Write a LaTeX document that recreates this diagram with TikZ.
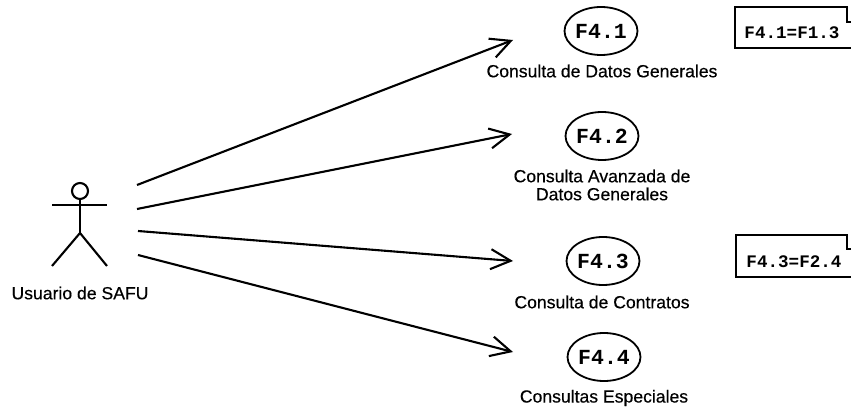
\documentclass[tikz,border=0pt]{standalone}
\usepackage{fontspec}
\setmainfont[FakeBold=0.4]{Liberation Sans}
\setmonofont{Liberation Mono}
\usetikzlibrary{arrows.meta,shapes.geometric}
\tikzset{
  uc/.style={ellipse,draw,line width=1.8pt,minimum width=72pt,minimum height=48pt,inner sep=0pt,font=\ttfamily\bfseries\fontsize{21.5}{24}\selectfont},
  lbl/.style={font=\fontsize{17.6}{18}\selectfont,align=center,inner sep=0pt},
  note/.style={font=\ttfamily\bfseries\fontsize{17.6}{18}\selectfont,inner sep=0pt},
  ln/.style={line width=2.1pt},
  arr/.style={ln,-{Straight Barb[length=20pt,width=20pt,line width=2.1pt]}}
}
\begin{document}
\begin{tikzpicture}[x=1pt,y=-1pt]
\useasboundingbox (0,0) rectangle (851,411);
\node[draw,circle,ln,minimum size=16pt,inner sep=0pt] (head) at (80,191) {};
\coordinate (hip) at (80,233);
\coordinate (armL) at (52,205);
\coordinate (armR) at (107,205);
\coordinate (legL) at (52,266);
\coordinate (legR) at (107,266);
\draw[ln] (head.south) -- (hip);
\draw[ln] (armL) -- (armR);
\draw[ln] (legL) -- (hip) -- (legR);
\node[lbl] (actor) at (80,293) {Usuario de SAFU};
\node[uc] (u1) at (601,31) {F4.1};
\node[uc] (u2) at (602,136) {F4.2};
\node[uc] (u3) at (603,261) {F4.3};
\node[uc] (u4) at (604,357) {F4.4};
\node[lbl] (l1) at (602,71) {Consulta de Datos Generales};
\node[lbl] (l2) at (602,185) {Consulta Avanzada de\\Datos Generales};
\node[lbl] (l3) at (602,302) {Consulta de Contratos};
\node[lbl] (l4) at (604,398) {Consultas Especiales};
\coordinate (s1) at (137,185);
\coordinate (s2) at (137,209);
\coordinate (s3) at (138,231);
\coordinate (s4) at (138,255);
\coordinate (e1) at (513,40);
\coordinate (e2) at (512,134);
\coordinate (e3) at (513,261);
\coordinate (e4) at (513,352);
\draw[arr] (s1) -- (e1);
\draw[arr] (s2) -- (e2);
\draw[arr] (s3) -- (e3);
\draw[arr] (s4) -- (e4);
\node[note] (n1) at (792,33) {F4.1=F1.3};
\node[note] (n3) at (794,262) {F4.3=F2.4};
\draw[ln] (848,7) -- (735,7) -- (735,48) -- (851,48);
\draw[line width=1.4pt] (847,7) -- (847,22) -- (851,22);
\draw[ln] (848,235) -- (736,235) -- (736,277) -- (851,277);
\draw[line width=1.4pt] (847,235) -- (847,249) -- (851,249);
\end{tikzpicture}
\end{document}
